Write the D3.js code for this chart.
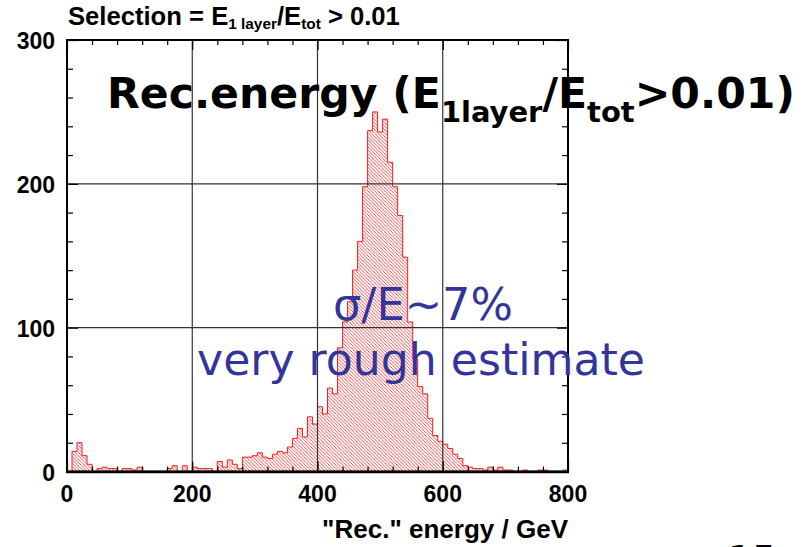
<!DOCTYPE html>
<html>
<head>
<meta charset="utf-8">
<script src="https://cdn.jsdelivr.net/npm/d3@7"></script>
<style>
  html, body { margin: 0; padding: 0; background: #fff; }
  svg { display: block; }
</style>
</head>
<body>
<svg id="chart" width="804" height="547"></svg>
<script>
// Histogram of reconstructed energy: 100 bins of 8 GeV from 0 to 800 GeV
const binWidth = 8;
const counts = [
  0, 14, 20, 11, 5, 0, 2, 3, 2, 2,
  0, 2, 2, 1, 3, 0, 0, 0, 0, 0,
  2, 4, 0, 4, 0, 3, 2, 2, 2, 0,
  7, 3, 8, 5, 2, 10, 10, 11, 13, 10,
  9, 12, 14, 13, 17, 23, 30, 24, 38, 33,
  45, 40, 58, 54, 86, 104, 118, 140, 160, 198,
  237, 250, 236, 245, 215, 198, 178, 149, 104, 78,
  59, 54, 37, 25, 21, 19, 16, 12, 9, 4,
  3, 2, 2, 1, 3, 1, 3, 1, 1, 0,
  0, 1, 0, 0, 1, 1, 0, 0, 0, 1
];
const xTicks = [0, 200, 400, 600, 800];
const yTicks = [0, 100, 200, 300];
const xMinor = d3.range(0, 801, 40);
const yMinor = d3.range(0, 301, 20);
const xGrid = [200, 400, 600];
const yGrid = [100, 200];

const svg = d3.select("#chart");
const x = d3.scaleLinear().domain([0, 800]).range([67, 568]);
const y = d3.scaleLinear().domain([0, 300]).range([471.5, 40]);

// scale a text element's font so its rendered width hits a target
function fitWidth(el, target) {
  const fs = parseFloat(el.attr("font-size"));
  const w = el.node().getBBox().width;
  el.attr("font-size", fs * target / w);
}

// hatch pattern for the histogram fill
const defs = svg.append("defs");
const pat = defs.append("pattern")
  .attr("id", "hatch").attr("patternUnits", "userSpaceOnUse")
  .attr("width", 3.4).attr("height", 3.4);
pat.append("path")
  .attr("d", "M0,0 L3.4,3.4 M-1,2.4 L1,4.4 M2.4,-1 L4.4,1")
  .attr("stroke", "#ff2020").attr("stroke-width", 0.8);

// histogram outline as a step path
const pts = [[x(0), y(0)]];
counts.forEach((c, i) => {
  pts.push([x(i * binWidth), y(c)]);
  pts.push([x((i + 1) * binWidth), y(c)]);
});
pts.push([x(800), y(0)]);
const line = d3.line();
svg.append("path").attr("d", line(pts) + "Z")
  .attr("fill", "url(#hatch)").attr("stroke", "none");
svg.append("path").attr("d", line(pts))
  .attr("fill", "none").attr("stroke", "#ff1a1a").attr("stroke-width", 1);

// grid lines
svg.append("g").selectAll("line").data(xGrid).join("line")
  .attr("x1", d => x(d)).attr("x2", d => x(d))
  .attr("y1", y(0)).attr("y2", y(300))
  .attr("stroke", "#333").attr("stroke-width", 1.2);
svg.append("g").selectAll("line").data(yGrid).join("line")
  .attr("x1", x(0)).attr("x2", x(800))
  .attr("y1", d => y(d)).attr("y2", d => y(d))
  .attr("stroke", "#333").attr("stroke-width", 1.2);

// inward ticks on all four sides
function ticks(axisFn, scale, vals, size, transform) {
  const g = svg.append("g").attr("transform", transform)
    .call(axisFn(scale).tickValues(vals).tickSize(size).tickFormat(""));
  g.select(".domain").remove();
  g.selectAll(".tick line").attr("stroke", "#000").attr("stroke-width", 1.2);
}
const xMin = xMinor.filter(v => !xTicks.includes(v));
const yMin = yMinor.filter(v => !yTicks.includes(v));
ticks(d3.axisBottom, x, xMin, -5, `translate(0,${y(0)})`);
ticks(d3.axisTop, x, xMin, -5, `translate(0,${y(300)})`);
ticks(d3.axisBottom, x, xTicks, -10, `translate(0,${y(0)})`);
ticks(d3.axisTop, x, xTicks, -10, `translate(0,${y(300)})`);
ticks(d3.axisLeft, y, yMin, -6, `translate(${x(0)},0)`);
ticks(d3.axisRight, y, yMin, -6, `translate(${x(800)},0)`);
ticks(d3.axisLeft, y, yTicks, -11, `translate(${x(0)},0)`);
ticks(d3.axisRight, y, yTicks, -11, `translate(${x(800)},0)`);

// frame
svg.append("rect").attr("x", x(0)).attr("y", y(300))
  .attr("width", x(800) - x(0)).attr("height", y(0) - y(300))
  .attr("fill", "none").attr("stroke", "#000").attr("stroke-width", 2);
svg.append("line").attr("x1", x(0) - 1).attr("x2", x(800) + 1)
  .attr("y1", y(0) + 0.5).attr("y2", y(0) + 0.5)
  .attr("stroke", "#000").attr("stroke-width", 2.5);

// tick labels
const labelFont = "'Liberation Sans', Arial, sans-serif";
svg.append("g").selectAll("text").data(xTicks).join("text")
  .attr("x", d => x(d)).attr("y", 502)
  .attr("text-anchor", "middle")
  .attr("font-family", labelFont).attr("font-weight", "bold").attr("font-size", 23)
  .text(d => d);
svg.append("g").selectAll("text").data(yTicks).join("text")
  .attr("x", 55).attr("y", d => y(d) + 9)
  .attr("text-anchor", "end")
  .attr("font-family", labelFont).attr("font-weight", "bold").attr("font-size", 23)
  .text(d => d);

// axis title
const title = svg.append("text").attr("x", 568).attr("y", 538).attr("text-anchor", "end")
  .attr("font-family", labelFont).attr("font-weight", "bold").attr("font-size", 21)
  .text('"Rec." energy / GeV');
fitWidth(title, 246);

// selection header
const head = svg.append("text").attr("x", 68).attr("y", 25)
  .attr("font-family", labelFont).attr("font-weight", "bold").attr("font-size", 20);
head.append("tspan").text("Selection = E");
head.append("tspan").attr("font-size", "0.6em").attr("dy", 4).text("1 layer");
head.append("tspan").attr("dy", -4).text("/E");
head.append("tspan").attr("font-size", "0.6em").attr("dy", 4).text("tot");
head.append("tspan").attr("dy", -4).text(" > 0.01");
fitWidth(head, 332);

// big annotation
const big = svg.append("text").attr("x", 107).attr("y", 108)
  .attr("font-family", "'DejaVu Sans', sans-serif").attr("font-weight", "bold")
  .attr("font-size", 40).attr("fill", "#000");
big.append("tspan").text("Rec.energy (E");
big.append("tspan").attr("font-size", "0.68em").attr("dy", 14).text("1layer");
big.append("tspan").attr("dy", -14).text("/E");
big.append("tspan").attr("font-size", "0.68em").attr("dy", 14).text("tot");
big.append("tspan").attr("dy", -14).text(">0.01)");
fitWidth(big, 688);

// resolution note
const blue = "#34359a";
const note1 = svg.append("text").attr("x", 423).attr("y", 320).attr("text-anchor", "middle")
  .attr("font-family", "'DejaVu Sans', sans-serif").attr("font-size", 40).attr("fill", blue)
  .text("\u03c3/E~7%");
const note2 = svg.append("text").attr("x", 421).attr("y", 375).attr("text-anchor", "middle")
  .attr("font-family", "'DejaVu Sans', sans-serif").attr("font-size", 40).attr("fill", blue)
  .text("very rough estimate");
fitWidth(note1, 180);
fitWidth(note2, 448);

// page number peeking in at the bottom edge
svg.append("text").attr("x", 728).attr("y", 572)
  .attr("font-family", "'DejaVu Sans', sans-serif").attr("font-size", 38).attr("fill", "#000")
  .text("15");
</script>
</body>
</html>
